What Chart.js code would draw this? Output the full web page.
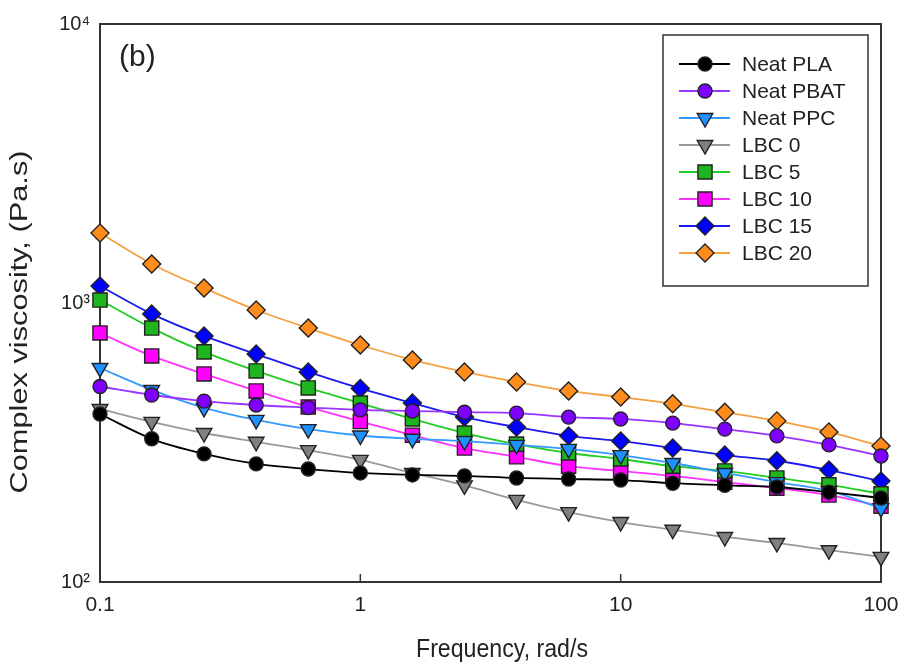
<!DOCTYPE html>
<html><head><meta charset="utf-8">
<script src="https://cdn.jsdelivr.net/npm/chart.js@4.4.0/dist/chart.umd.min.js"></script>
<style>html,body{margin:0;padding:0;background:#fff;overflow:hidden;} #wrap{width:904px;height:667px;position:relative;}</style>
</head><body><div id="wrap"><canvas id="c"></canvas></div>
<script>
const frequency = [0.1,0.158,0.251,0.398,0.631,1,1.585,2.512,3.981,6.31,10,15.85,25.12,39.81,63.1,100];
const neatPLA  = [400,326,288,265,254,246,242,240,236,234,232,226,222,219,210,200];
const neatPBAT = [502,468,445,431,422,414,410,406,403,390,384,371,353,334,310,283];
const neatPPC  = [585,488,421,381,353,335,326,320,310,300,285,267,246,228,212,184];
const lbc0     = [417,375,342,318,297,274,246,222,197,178,164,154,145,138,130,123];
const lbc5     = [1025,813,668,571,496,438,384,342,312,290,276,260,250,236,223,207];
const lbc10    = [781,646,557,484,424,376,336,302,281,260,250,240,228,217,205,187];
const lbc15    = [1151,914,762,656,566,494,438,390,359,334,320,302,285,272,252,230];
const lbc20    = [1782,1380,1132,944,813,707,625,566,521,484,460,435,406,378,345,307];
const seriesNames = ['Neat PLA','Neat PBAT','Neat PPC','LBC 0','LBC 5','LBC 10','LBC 15','LBC 20'];
const seriesValues = [neatPLA,neatPBAT,neatPPC,lbc0,lbc5,lbc10,lbc15,lbc20];
const xTickValues = [0.1,1,10,100];
const xTickLabels = ['0.1','1','10','100'];
const yTickValues = [100,1000,10000];
const yTickLabels = ['10\u00b2','10\u00b3','10\u2074'];
const xTitle = 'Frequency, rad/s';
const yTitle = 'Complex viscosity, (Pa.s)';
const panelLabel = '(b)';

const FONT = '"Liberation Sans", Arial, sans-serif';
const styles = [
  {line:'#000000', fill:'#000000', shape:'circle',   r:7,  rot:0},
  {line:'#9933ff', fill:'#7f00ff', shape:'circle',   r:7,  rot:0},
  {line:'#3399ff', fill:'#1e90ff', shape:'triangle', r:9,  rot:180},
  {line:'#999999', fill:'#808080', shape:'triangle', r:9,  rot:180},
  {line:'#22cc22', fill:'#1fb51f', shape:'rect',     r:10, rot:0},
  {line:'#ff33ff', fill:'#ff00ff', shape:'rect',     r:10, rot:0},
  {line:'#1a1aee', fill:'#0000ff', shape:'rectRot',  r:9,  rot:0},
  {line:'#f5a040', fill:'#ff8c1a', shape:'rectRot',  r:9,  rot:0}
];

const datasets = seriesNames.map((name, i) => ({
  label: name,
  data: frequency.map((f, j) => ({x: f, y: seriesValues[i][j]})),
  borderColor: styles[i].line,
  backgroundColor: styles[i].fill,
  borderWidth: 1.8,
  pointStyle: styles[i].shape,
  pointRadius: styles[i].r,
  pointRotation: styles[i].rot,
  pointBackgroundColor: styles[i].fill,
  pointBorderColor: '#222',
  pointBorderWidth: 1.4,
  cubicInterpolationMode: 'monotone',
  clip: false,
  fill: false
}));

function drawMarker(ctx, s, x, y) {
  ctx.save();
  ctx.fillStyle = s.fill; ctx.strokeStyle = '#222'; ctx.lineWidth = 1.4;
  ctx.beginPath();
  const r = s.r;
  if (s.shape === 'circle') { ctx.arc(x, y, r, 0, Math.PI*2); }
  else if (s.shape === 'rect') { const h = r*Math.SQRT1_2; ctx.rect(x-h, y-h, 2*h, 2*h); }
  else if (s.shape === 'rectRot') { ctx.moveTo(x-r,y); ctx.lineTo(x,y-r); ctx.lineTo(x+r,y); ctx.lineTo(x,y+r); ctx.closePath(); }
  else if (s.shape === 'triangle') {
    let rad = s.rot*Math.PI/180;
    ctx.moveTo(x+Math.sin(rad)*r, y-Math.cos(rad)*r);
    rad += 2*Math.PI/3; ctx.lineTo(x+Math.sin(rad)*r, y-Math.cos(rad)*r);
    rad += 2*Math.PI/3; ctx.lineTo(x+Math.sin(rad)*r, y-Math.cos(rad)*r);
    ctx.closePath();
  }
  ctx.fill(); ctx.stroke();
  ctx.restore();
}

const framePlugin = {
  id: 'frame',
  beforeDatasetsDraw(chart) {
    const {ctx, chartArea: a, scales} = chart;
    ctx.save();
    ctx.strokeStyle = '#333'; ctx.lineWidth = 2;
    ctx.strokeRect(a.left, a.top, a.right - a.left, a.bottom - a.top);
    ctx.lineWidth = 1.5;
    xTickValues.slice(1, -1).forEach(v => {
      const px = scales.x.getPixelForValue(v);
      ctx.beginPath(); ctx.moveTo(px, a.bottom); ctx.lineTo(px, a.bottom - 8); ctx.stroke();
    });
    ctx.restore();
  }
};

const textPlugin = {
  id: 'texts',
  afterDraw(chart) {
    const ctx = chart.ctx;
    ctx.save();
    ctx.fillStyle = '#222';
    ctx.font = '30px ' + FONT; ctx.textAlign = 'left'; ctx.textBaseline = 'middle';
    ctx.fillText(panelLabel, 119, 58);
    ctx.save();
    ctx.font = '22px ' + FONT; ctx.textAlign = 'center'; ctx.textBaseline = 'middle';
    ctx.translate(502, 650);
    const wx = ctx.measureText(xTitle).width;
    ctx.scale(172 / wx, 1.15);
    ctx.fillText(xTitle, 0, 0);
    ctx.restore();
    ctx.save();
    ctx.font = '23px ' + FONT; ctx.textAlign = 'center'; ctx.textBaseline = 'middle';
    ctx.translate(21, 322);
    ctx.rotate(-Math.PI/2);
    const wy = ctx.measureText(yTitle).width;
    ctx.scale(343 / wy, 1);
    ctx.fillText(yTitle, 0, 0);
    ctx.restore();
    ctx.strokeStyle = '#333'; ctx.lineWidth = 1.5;
    ctx.strokeRect(663, 35, 205, 251);
    ctx.font = '21px ' + FONT; ctx.textAlign = 'left'; ctx.textBaseline = 'middle';
    seriesNames.forEach((name, i) => {
      const y = 64 + i * 27;
      ctx.strokeStyle = styles[i].line; ctx.lineWidth = 1.8;
      ctx.beginPath(); ctx.moveTo(679, y); ctx.lineTo(730, y); ctx.stroke();
      drawMarker(ctx, styles[i], 705, y);
      ctx.fillStyle = '#222';
      ctx.fillText(name, 742, y + 1);
    });
    ctx.restore();
  }
};

new Chart(document.getElementById('c'), {
  type: 'line',
  data: {datasets},
  options: {
    responsive: true,
    maintainAspectRatio: false,
    animation: false,
    devicePixelRatio: 1,
    layout: {padding: {top: 24, right: 23, left: 0, bottom: 0}},
    plugins: {legend: {display: false}, tooltip: {enabled: false}},
    scales: {
      x: {
        type: 'logarithmic', min: 0.1, max: 100, position: 'bottom',
        afterBuildTicks: s => { s.ticks = xTickValues.map(v => ({value: v})); },
        afterFit: s => { s.height = 85; s.paddingLeft = 0; s.paddingRight = 0; },
        grid: {display: false, drawTicks: false},
        border: {display: false},
        ticks: {
          autoSkip: false, maxRotation: 0, padding: 11, color: '#222',
          font: {family: FONT, size: 21},
          callback: (v) => { const i = xTickValues.indexOf(v); return i >= 0 ? xTickLabels[i] : ''; }
        }
      },
      y: {
        type: 'logarithmic', min: 100, max: 10000, position: 'left',
        afterBuildTicks: s => { s.ticks = yTickValues.map(v => ({value: v})); },
        afterFit: s => { s.width = 100; s.paddingTop = 0; s.paddingBottom = 0; },
        grid: {display: false, drawTicks: false},
        border: {display: false},
        ticks: {
          autoSkip: false, padding: 10, color: '#222',
          font: {family: FONT, size: 20},
          callback: (v) => { const i = yTickValues.indexOf(v); return i >= 0 ? yTickLabels[i] : ''; }
        }
      }
    }
  },
  plugins: [framePlugin, textPlugin]
});
</script>
</body></html>
